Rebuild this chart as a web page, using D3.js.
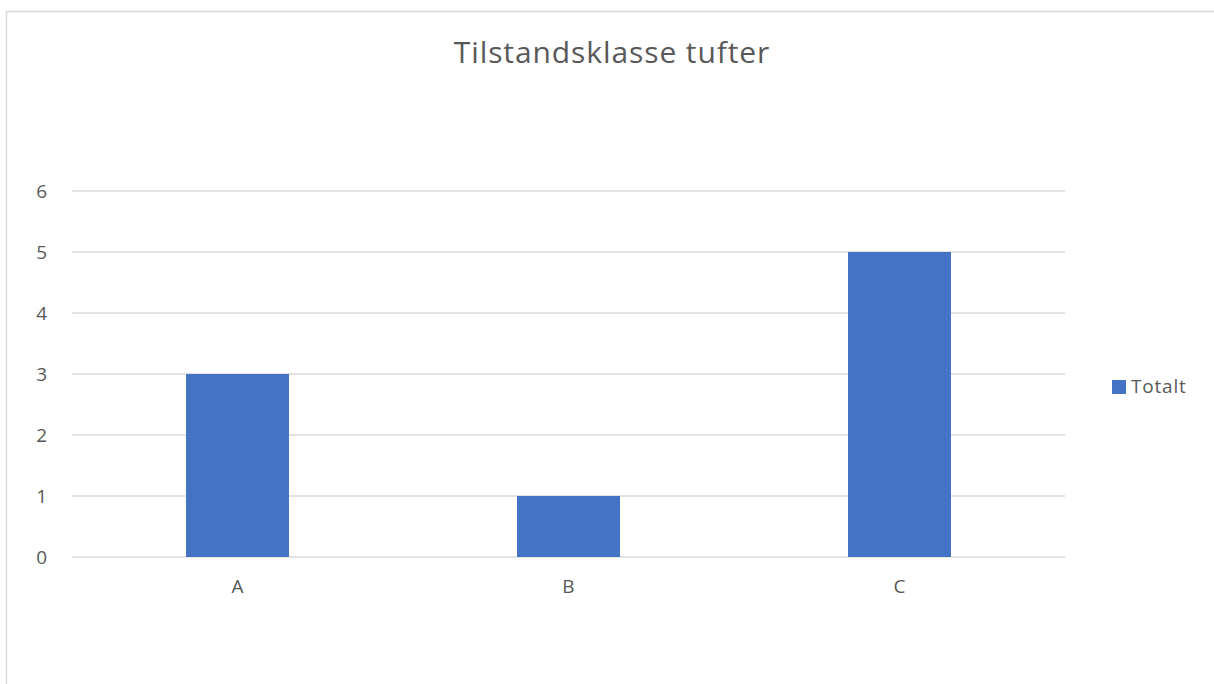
<!DOCTYPE html>
<html>
<head>
<meta charset="utf-8">
<script src="https://cdn.jsdelivr.net/npm/d3@7"></script>
<style>
  body { margin: 0; background: #fff; }
  svg text { font-family: "Open Sans", "Noto Sans", sans-serif; fill: #595959; }
</style>
</head>
<body>
<svg id="chart" width="1214" height="684"></svg>
<script>
const categories = ["A", "B", "C"];
const values = [3, 1, 5];
const yTicks = [0, 1, 2, 3, 4, 5, 6];
const seriesName = "Totalt";
const title = "Tilstandsklasse tufter";

const svg = d3.select("#chart"),
    width = +svg.attr("width"),
    height = +svg.attr("height");

// outer chart frame (cut off at right/bottom like the reference)
svg.append("rect")
    .attr("x", 6.5).attr("y", 11.5)
    .attr("width", 1220).attr("height", 700)
    .attr("fill", "#fff")
    .attr("stroke", "#d9d9d9")
    .attr("stroke-width", 1.5);

const plot = { left: 72, right: 1065, top: 191, bottom: 557 };

const x = d3.scaleBand()
    .domain(categories)
    .range([plot.left, plot.right])
    .paddingInner(0.689)
    .paddingOuter(0.3445);

const y = d3.scaleLinear()
    .domain([0, 6])
    .range([plot.bottom, plot.top]);

// gridlines
svg.append("g")
    .selectAll("line")
    .data(yTicks)
    .enter().append("line")
    .attr("x1", plot.left).attr("x2", plot.right)
    .attr("y1", d => y(d)).attr("y2", d => y(d))
    .attr("stroke", "#d9d9d9")
    .attr("stroke-width", 1.5);

// y labels
svg.append("g")
    .selectAll("text")
    .data(yTicks)
    .enter().append("text")
    .attr("x", 47)
    .attr("y", d => y(d) + 7)
    .attr("text-anchor", "end")
    .style("font-size", "19px")
    .text(d => d);

// bars
svg.append("g")
    .selectAll("rect")
    .data(values)
    .enter().append("rect")
    .attr("x", (d, i) => x(categories[i]))
    .attr("width", x.bandwidth())
    .attr("y", d => y(d))
    .attr("height", d => y(0) - y(d))
    .attr("fill", "#4472c4");

// x labels
svg.append("g")
    .selectAll("text")
    .data(categories)
    .enter().append("text")
    .attr("x", d => x(d) + x.bandwidth() / 2)
    .attr("y", 593)
    .attr("text-anchor", "middle")
    .style("font-size", "19px")
    .text(d => d);

// title
svg.append("text")
    .attr("x", 612)
    .attr("y", 63)
    .attr("text-anchor", "middle")
    .style("font-size", "30px")
    .style("letter-spacing", "0.9px")
    .text(title);

// legend
const legend = svg.append("g").attr("transform", "translate(1112,380)");
legend.append("rect")
    .attr("width", 14).attr("height", 14)
    .attr("fill", "#4472c4");
legend.append("text")
    .attr("x", 19).attr("y", 13)
    .style("font-size", "19px")
    .style("letter-spacing", "0.8px")
    .text(seriesName);
</script>
</body>
</html>
